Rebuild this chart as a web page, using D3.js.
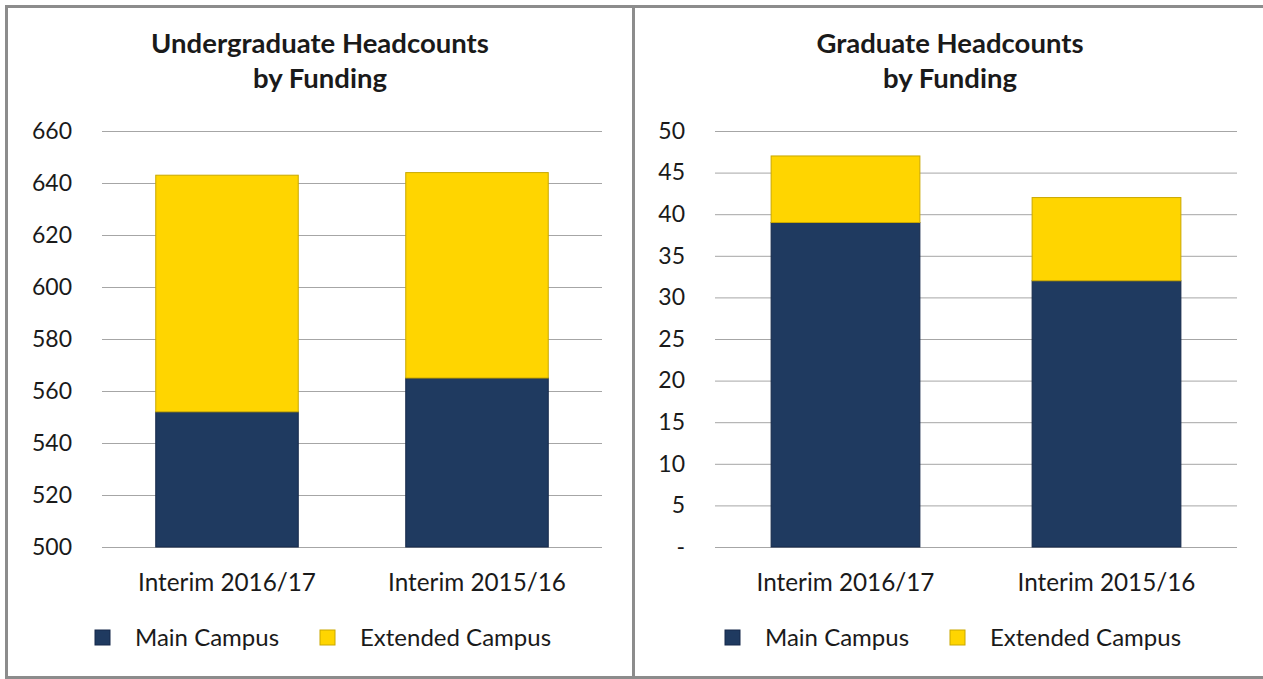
<!DOCTYPE html>
<html>
<head>
<meta charset="utf-8">
<script src="https://cdn.jsdelivr.net/npm/d3@7"></script>
<style>
  body { margin: 0; background: #fff; }
  text { font-family: Lato, "Open Sans", sans-serif; fill: #1a1a1a; }
</style>
</head>
<body>
<div id="chart"></div>
<script>
// data
var categories = ["Interim 2016/17", "Interim 2015/16"];
var seriesNames = ["Main Campus", "Extended Campus"];
var ugMain = [552, 565];
var ugExtended = [91, 79];
var gradMain = [39, 32];
var gradExtended = [8, 10];
var ugTicks = [500, 520, 540, 560, 580, 600, 620, 640, 660];
var gradTicks = [0, 5, 10, 15, 20, 25, 30, 35, 40, 45, 50];

var colors = ["#1f3a60", "#ffd500"];
var strokes = ["#16294a", "#c9a800"];

var W = 1263, H = 679;
var svg = d3.select("#chart").append("svg")
    .attr("width", W)
    .attr("height", H);

// panel borders
svg.append("rect")
    .attr("x", 6.5).attr("y", 6.5)
    .attr("width", W + 10).attr("height", 671)
    .attr("fill", "none")
    .attr("stroke", "#8c8c8c")
    .attr("stroke-width", 3);
svg.append("line")
    .attr("x1", 633.5).attr("x2", 633.5)
    .attr("y1", 6).attr("y2", H)
    .attr("stroke", "#8c8c8c")
    .attr("stroke-width", 3);

function drawPanel(opt) {
  var g = svg.append("g");

  var x = d3.scaleBand()
      .domain(categories)
      .range([opt.left, opt.right])
      .paddingInner(0.43)
      .paddingOuter(0.215);

  var y = d3.scaleLinear()
      .domain(opt.domain)
      .range([547, 131]);

  // title
  var t = g.append("text")
      .attr("x", opt.cx)
      .attr("text-anchor", "middle")
      .style("font-size", "27.5px")
      .style("font-weight", "bold");
  t.append("tspan").attr("x", opt.cx).attr("y", 53).text(opt.title[0]);
  t.append("tspan").attr("x", opt.cx).attr("y", 88).text(opt.title[1]);

  // gridlines + y labels
  var yAxis = g.append("g")
      .attr("transform", "translate(" + opt.left + ",0)")
      .call(d3.axisLeft(y)
        .tickValues(opt.ticks)
        .tickSize(-(opt.right - opt.left))
        .tickPadding(30)
        .tickFormat(opt.fmt));
  yAxis.select(".domain").remove();
  yAxis.selectAll(".tick line").attr("stroke", "#a6a6a6");
  yAxis.selectAll(".tick text")
      .style("font-size", "23px")
      .attr("fill", "#1a1a1a");

  // stacked bars
  var rows = categories.map(function(c, i) {
    return { cat: c, main: opt.main[i], ext: opt.ext[i] };
  });
  var stacked = d3.stack().keys(["main", "ext"])(rows);
  var base = opt.domain[0];

  stacked.forEach(function(layer, li) {
    g.append("g").selectAll("rect")
      .data(layer)
      .enter().append("rect")
        .attr("x", function(d) { return x(d.data.cat); })
        .attr("width", x.bandwidth())
        .attr("y", function(d) { return y(d[1]); })
        .attr("height", function(d) { return y(Math.max(d[0], base)) - y(d[1]); })
        .attr("fill", colors[li])
        .attr("stroke", strokes[li])
        .attr("stroke-width", 1);
  });

  // x labels
  g.append("g").selectAll("text")
    .data(categories)
    .enter().append("text")
      .attr("x", function(d) { return x(d) + x.bandwidth() / 2; })
      .attr("y", 591)
      .attr("text-anchor", "middle")
      .style("font-size", "24.3px")
      .text(function(d) { return d; });

  // legend
  var leg = g.append("g").selectAll("g")
    .data(seriesNames)
    .enter().append("g")
      .attr("transform", function(d, i) { return "translate(" + opt.legX[i] + ",630)"; });
  leg.append("rect")
      .attr("width", 15).attr("height", 15)
      .attr("fill", function(d, i) { return colors[i]; })
      .attr("stroke", function(d, i) { return strokes[i]; });
  leg.append("text")
      .attr("x", 40).attr("y", 16)
      .style("font-size", "24px")
      .text(function(d) { return d; });
}

drawPanel({
  left: 102, right: 602, cx: 320,
  title: ["Undergraduate Headcounts", "by Funding"],
  domain: [500, 660], ticks: ugTicks,
  fmt: d3.format("d"),
  main: ugMain, ext: ugExtended,
  legX: [95, 320]
});

drawPanel({
  left: 715, right: 1237, cx: 950,
  title: ["Graduate Headcounts", "by Funding"],
  domain: [0, 50], ticks: gradTicks,
  fmt: function(d) { return d === 0 ? "-" : d; },
  main: gradMain, ext: gradExtended,
  legX: [725, 950]
});
</script>
</body>
</html>
